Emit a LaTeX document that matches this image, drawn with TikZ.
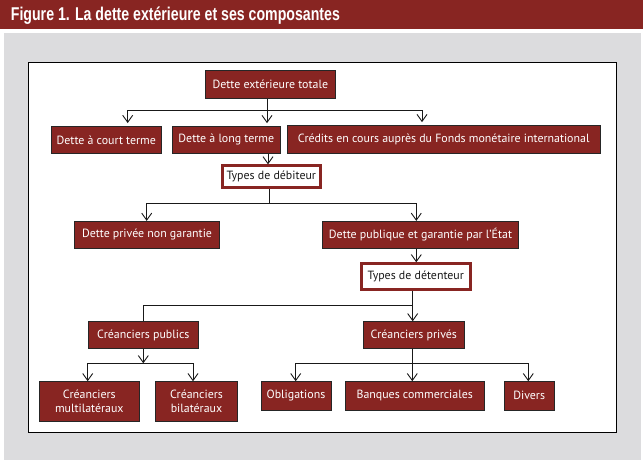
\documentclass[tikz,border=0pt]{standalone}
\usepackage{fontspec}
\setmainfont{PT Sans}
\newfontfamily\titlefont{Liberation Sans}
\usetikzlibrary{arrows.meta}
\definecolor{imfred}{RGB}{136,37,34}
\definecolor{panelgray}{RGB}{220,220,222}
\begin{document}
\begin{tikzpicture}[x=1pt,y=-1pt,
  redbox/.style={draw=black!85, line width=0.8pt, fill=imfred, text=white, inner sep=0pt, font=\fontsize{11.9}{14}\selectfont, align=center},
  typebox/.style={draw=imfred, line width=2.8pt, fill=white, text=black!90, inner sep=0pt, font=\fontsize{11.9}{14}\selectfont},
  conn/.style={line width=0.9pt, draw=black!90},
  arr/.style={conn, -{Straight Barb[length=7pt,width=10pt]}},
]
\useasboundingbox (0,0) rectangle (643,460);
% background
\fill[imfred] (0,0) rectangle (643,29.3);
\fill[panelgray] (3.5,33.3) rectangle (641,460);
\draw[line width=1.1pt, fill=white] (28.3,62.3) rectangle (616.7,432.3);
\node[anchor=base west, text=white, inner sep=0pt] (title) at (10.7,20.7)
  {\resizebox{329pt}{\height}{\titlefont\bfseries\fontsize{18.5}{20}\selectfont Figure 1. La dette extérieure et ses composantes}};
% nodes
\node[redbox, minimum width=130.7pt, minimum height=27.8pt] (tot) at (270.3,84.4) {Dette extérieure totale};
\node[redbox, minimum width=110.7pt, minimum height=27.7pt] (court) at (106.3,139.8) {Dette à court terme};
\node[redbox, minimum width=108pt, minimum height=27.3pt] (long) at (226.3,139.7) {Dette à long terme};
\node[redbox, minimum width=312.7pt, minimum height=28.3pt] (fmi) at (443.7,139.2) {Crédits en cours auprès du Fonds monétaire international};
\node[typebox, minimum width=98pt, minimum height=22pt] (deb) at (271.3,176.8) {Types de débiteur};
\node[redbox, minimum width=145.4pt, minimum height=27pt] (priv) at (147,234.8) {Dette privée non garantie};
\node[redbox, minimum width=196.4pt, minimum height=27.4pt] (pub) at (420.5,235) {Dette publique et garantie par l’État};
\node[typebox, minimum width=109pt, minimum height=25.6pt] (det) at (415.8,276.5) {Types de détenteur};
\node[redbox, minimum width=110pt, minimum height=26.6pt] (cpub) at (143.3,335) {Créanciers publics};
\node[redbox, minimum width=101pt, minimum height=26.6pt] (cpriv) at (413.8,335) {Créanciers privés};
\node[redbox, minimum width=100pt, minimum height=39.3pt] (multi) at (89.3,401.3) {Créanciers\\multilatéraux};
\node[redbox, minimum width=82.4pt, minimum height=39.3pt] (bi) at (196.5,401.3) {Créanciers\\bilatéraux};
\node[redbox, minimum width=70pt, minimum height=28.3pt] (oblig) at (296,395.8) {Obligations};
\node[redbox, minimum width=139.3pt, minimum height=28.3pt] (banq) at (414.7,395.8) {Banques commerciales};
\node[redbox, minimum width=50.3pt, minimum height=28.3pt] (divers) at (529.2,395.8) {Divers};
% connectors level 1
\coordinate (b1) at (267,110);
\coordinate (b1l) at (127.7,110);
\coordinate (b1r) at (422,110);
\draw[conn] (tot.south -| b1) -- (b1);
\draw[conn] (b1l) -- (b1r);
\draw[arr, shorten >=2.5pt] (b1l) -- (b1l |- court.north);
\draw[arr, shorten >=2.5pt] (b1) -- (b1 |- long.north);
\draw[arr, shorten >=2.5pt] (b1r) -- (b1r |- fmi.north);
% level 2
\coordinate (c2) at (268,150);
\draw[arr] (long.south -| c2) -- (deb.north -| c2);
% level 3
\coordinate (b3) at (269.3,203.3);
\coordinate (b3l) at (146.7,203.3);
\coordinate (b3r) at (416.3,203.3);
\draw[conn] (deb.south -| b3) -- (b3);
\draw[conn] (b3l) -- (b3r);
\draw[arr] (b3l) -- (priv.north -| b3l);
\draw[arr] (b3r) -- (pub.north -| b3r);
% level 4
\draw[arr] (pub.south -| b3r) -- (det.north -| b3r);
% level 5
\coordinate (b5) at (412.7,305.3);
\coordinate (b5l) at (143.3,305.3);
\draw[conn] (det.south -| b5) -- (b5) -- (b5l) -- (cpub.north -| b5l);
\draw[arr] (b5) -- (cpriv.north -| b5);
% level 6 left
\coordinate (b6) at (143.3,363.3);
\coordinate (b6l) at (87.7,363.3);
\coordinate (b6r) at (193,363.3);
\draw[arr] (cpub.south -| b6) -- (b6);
\draw[conn] (b6l) -- (b6r);
\draw[arr] (b6l) -- (multi.north -| b6l);
\draw[arr] (b6r) -- (bi.north -| b6r);
% level 6 right
\coordinate (b7) at (412.3,363.3);
\coordinate (b7l) at (295.7,363.3);
\coordinate (b7r) at (528.3,363.3);
\draw[conn] (cpriv.south -| b7) -- (b7);
\draw[conn] (b7l) -- (b7r);
\draw[arr] (b7l) -- (oblig.north -| b7l);
\draw[arr] (b7) -- (banq.north -| b7);
\draw[arr] (b7r) -- (divers.north -| b7r);
\end{tikzpicture}
\end{document}
